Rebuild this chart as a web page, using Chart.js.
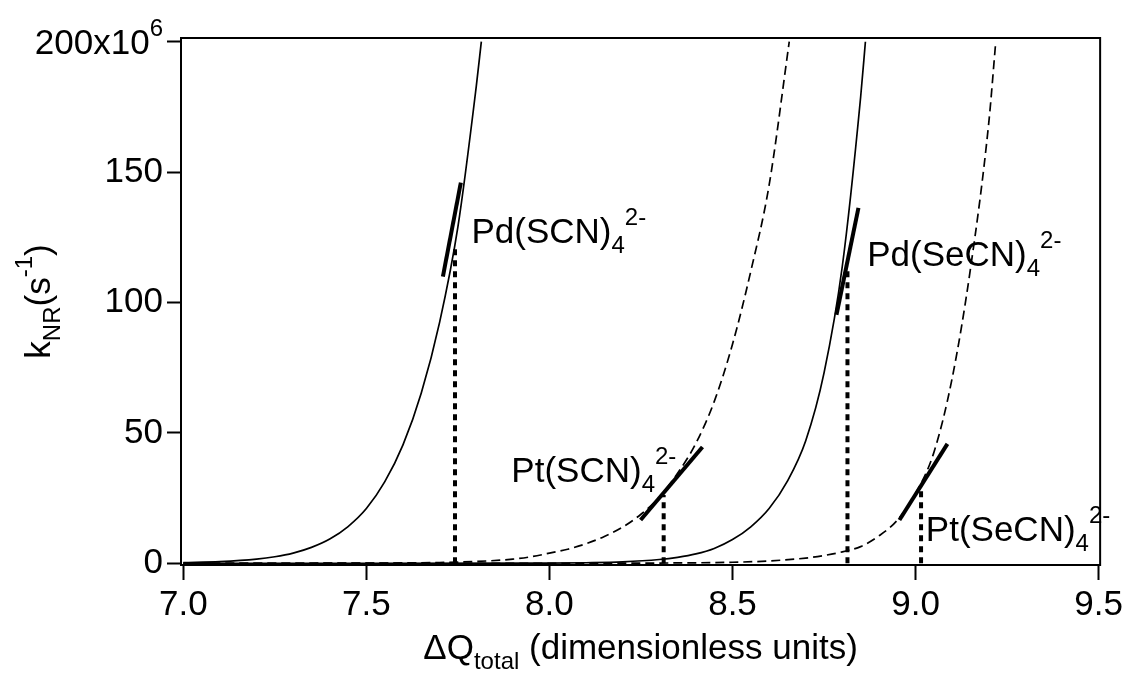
<!DOCTYPE html>
<html>
<head>
<meta charset="utf-8">
<script src="https://cdn.jsdelivr.net/npm/chart.js@4.4.1/dist/chart.umd.min.js"></script>
<style>
  body { margin: 0; background: #fff; }
  #wrap { width: 1127px; height: 675px; }
</style>
</head>
<body>
<div id="wrap"><canvas id="chart" width="1127" height="675"></canvas></div>
<script>
// kNR values are in units of 10^6 s^-1
const pdScnX = [7.0, 7.1, 7.2, 7.25, 7.3, 7.35, 7.4, 7.45, 7.5, 7.55, 7.6, 7.65, 7.7, 7.75, 7.8, 7.814];
const pdScnY = [0.27, 0.66, 1.6, 2.5, 3.9, 6.1, 9.3, 14.1, 21, 31.2, 45.4, 65.3, 92.4, 129, 182.7, 200];

const ptScnX = [7.0, 7.5, 7.7, 7.8, 7.9, 7.95, 8.0, 8.05, 8.1, 8.15, 8.2, 8.25, 8.3, 8.35, 8.4, 8.45, 8.5, 8.55, 8.6, 8.655];
const ptScnY = [0.0, 0.07, 0.3, 0.7, 1.6, 2.5, 3.9, 5.4, 7.5, 10.3, 13.9, 18.8, 25.3, 34.5, 46, 62, 84, 112, 145, 200];

const pdSecnX = [7.0, 7.5, 8.0, 8.1, 8.2, 8.3, 8.35, 8.4, 8.45, 8.5, 8.55, 8.6, 8.65, 8.7, 8.75, 8.8, 8.85, 8.863];
const pdSecnY = [0.0, 0.0, 0.08, 0.22, 0.55, 1.45, 2.3, 3.6, 5.7, 9.1, 14, 21, 31.5, 47, 73, 114, 178.8, 200];

const ptSecnX = [7.0, 8.0, 8.3, 8.5, 8.6, 8.7, 8.75, 8.8, 8.85, 8.9, 8.95, 9.0, 9.05, 9.1, 9.15, 9.2, 9.219];
const ptSecnY = [0.0, 0.02, 0.1, 0.4, 0.9, 2.0, 3.0, 4.4, 6.4, 10.5, 16.5, 26.8, 42.5, 71, 113, 169, 200];

// short thick slope segments at each compound, [x0, y0, x1, y1]
const slopeSegs = [
    [7.709, 109.9, 7.758, 146],
    [8.249, 16.6, 8.418, 44.6],
    [8.784, 95.3, 8.844, 136.3],
    [8.956, 16.6, 9.087, 45.8]
];
// dotted drop lines, [x, top]
const dropLines = [
    [7.742, 121],
    [8.312, 26.2],
    [8.814, 113.7],
    [9.015, 28.9]
];

const xTicks = [7.0, 7.5, 8.0, 8.5, 9.0, 9.5];
const yTicks = [0, 50, 100, 150, 200];

// compound labels: name, subscript, superscript, anchor x, anchor y (data units)
const compoundLabels = [
    ['Pd(SCN)', '4', '2-', 7.787, 122.8],
    ['Pt(SCN)', '4', '2-', 7.896, 31.3],
    ['Pd(SeCN)', '4', '2-', 8.868, 114],
    ['Pt(SeCN)', '4', '2-', 9.028, 8.6]
];

const FONT = '"Liberation Sans", Arial, sans-serif';
const BIG = 35;
const SMALL = 24;

const toPts = (xs, ys) => xs.map((x, i) => ({ x: x, y: ys[i] }));

const datasets = [
    { data: toPts(pdScnX, pdScnY), borderColor: '#000', borderWidth: 1.7, cubicInterpolationMode: 'monotone' },
    { data: toPts(ptScnX, ptScnY), borderColor: '#000', borderWidth: 1.7, borderDash: [9, 5], cubicInterpolationMode: 'monotone' },
    { data: toPts(pdSecnX, pdSecnY), borderColor: '#000', borderWidth: 1.7, cubicInterpolationMode: 'monotone' },
    { data: toPts(ptSecnX, ptSecnY), borderColor: '#000', borderWidth: 1.7, borderDash: [9, 5], cubicInterpolationMode: 'monotone' }
];
slopeSegs.forEach(s => {
    datasets.push({ data: [{ x: s[0], y: s[1] }, { x: s[2], y: s[3] }], borderColor: '#000', borderWidth: 4 });
});
dropLines.forEach(d => {
    datasets.push({ data: [{ x: d[0], y: 0 }, { x: d[0], y: d[1] }], borderColor: '#000', borderWidth: 4, borderDash: [6, 5] });
});

// draws text pieces with sub/superscripts, returns width
function richText(ctx, parts, x, y, measureOnly) {
    let cx = x;
    parts.forEach(p => {
        const size = p.k === 'n' ? BIG : SMALL;
        ctx.font = size + 'px ' + FONT;
        let dy = 0;
        if (p.k === 'sub') dy = 10;
        if (p.k === 'sup') dy = -18;
        if (!measureOnly) ctx.fillText(p.t, cx, y + dy);
        cx += ctx.measureText(p.t).width;
    });
    return cx - x;
}

const extras = {
    id: 'extras',
    afterDraw(chart) {
        const ctx = chart.ctx;
        const a = chart.chartArea;
        const xs = chart.scales.x, ys = chart.scales.y;
        ctx.save();
        ctx.strokeStyle = '#000';
        ctx.lineWidth = 2;
        ctx.strokeRect(a.left, a.top, a.right - a.left, a.bottom - a.top);

        ctx.fillStyle = '#000';
        ctx.textBaseline = 'alphabetic';
        ctx.textAlign = 'left';

        compoundLabels.forEach(l => {
            richText(ctx, [{ t: l[0], k: 'n' }, { t: l[1], k: 'sub' }, { t: l[2], k: 'sup' }],
                xs.getPixelForValue(l[3]), ys.getPixelForValue(l[4]));
        });

        // top y tick label 200x10^6
        const topParts = [{ t: '200x10', k: 'n' }, { t: '6', k: 'sup' }];
        const w = richText(ctx, topParts, 0, 0, true);
        richText(ctx, topParts, a.left - 18 - w, ys.getPixelForValue(200) + 12);

        // x axis title
        const xParts = [{ t: '\u0394Q', k: 'n' }, { t: 'total', k: 'sub' }, { t: ' (dimensionless units)', k: 'n' }];
        const xw = richText(ctx, xParts, 0, 0, true);
        richText(ctx, xParts, (a.left + a.right) / 2 - xw / 2, 659);

        // y axis title
        const yParts = [{ t: 'k', k: 'n' }, { t: 'NR', k: 'sub' }, { t: '(s', k: 'n' }, { t: '-1', k: 'sup' }, { t: ')', k: 'n' }];
        const yw = richText(ctx, yParts, 0, 0, true);
        ctx.translate(50, (a.top + a.bottom) / 2);
        ctx.rotate(-Math.PI / 2);
        richText(ctx, yParts, -yw / 2, 0);
        ctx.restore();
    }
};

new Chart(document.getElementById('chart'), {
    type: 'line',
    data: { datasets: datasets },
    options: {
        responsive: false,
        animation: false,
        events: [],
        layout: { padding: { left: 0, top: 38, right: 26, bottom: 0 } },
        elements: { point: { radius: 0 }, line: { tension: 0 } },
        plugins: { legend: { display: false }, tooltip: { enabled: false } },
        scales: {
            x: {
                type: 'linear',
                min: 6.9937,
                max: 9.5041,
                afterBuildTicks: axis => { axis.ticks = xTicks.map(v => ({ value: v })); },
                afterFit: axis => { axis.height = 110; },
                grid: { drawOnChartArea: false, drawTicks: true, tickLength: 15, tickWidth: 2, tickColor: '#000' },
                border: { display: true, color: '#000', width: 2 },
                ticks: {
                    color: '#000',
                    font: { family: FONT, size: BIG },
                    padding: 4,
                    maxRotation: 0,
                    callback: v => v.toFixed(1)
                }
            },
            y: {
                type: 'linear',
                min: -0.65,
                max: 201.42,
                afterBuildTicks: axis => { axis.ticks = yTicks.map(v => ({ value: v })); },
                afterFit: axis => { axis.width = 181; },
                grid: { drawOnChartArea: false, drawTicks: true, tickLength: 14, tickWidth: 2, tickColor: '#000' },
                border: { display: true, color: '#000', width: 2 },
                ticks: {
                    color: '#000',
                    font: { family: FONT, size: BIG },
                    padding: 4,
                    callback: v => (v === 200 ? '' : String(v))
                }
            }
        }
    },
    plugins: [extras]
});
</script>
</body>
</html>
